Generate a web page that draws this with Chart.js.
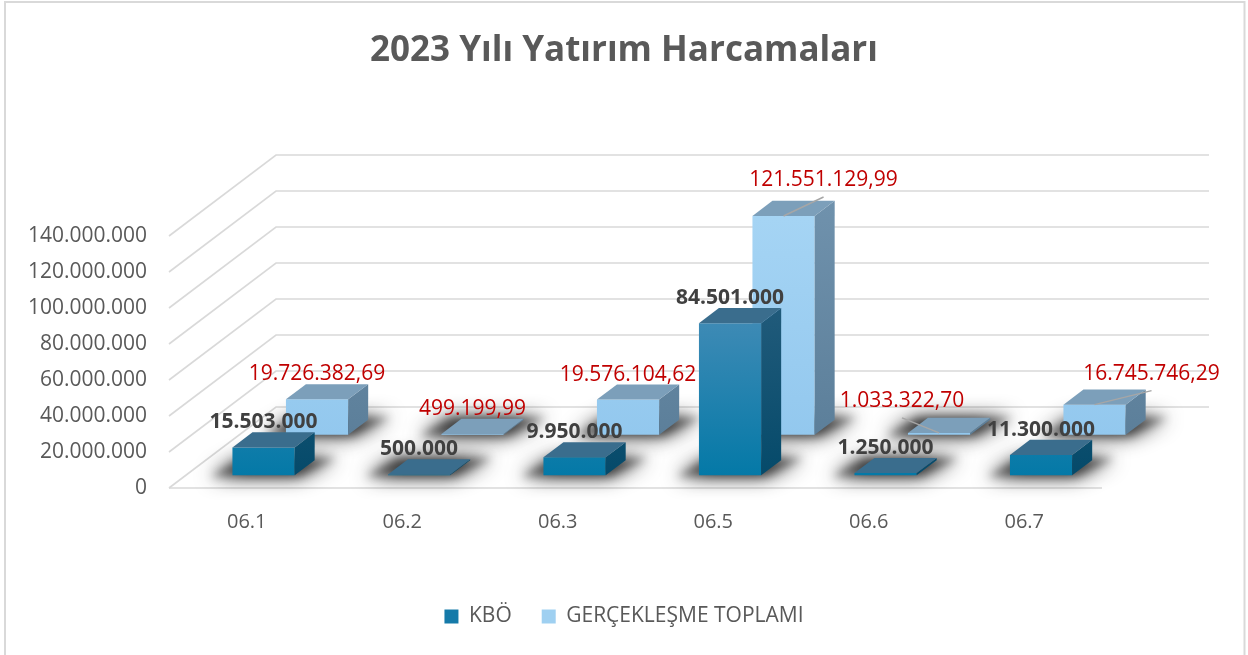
<!DOCTYPE html>
<html>
<head>
<meta charset="utf-8">
<script src="https://cdn.jsdelivr.net/npm/chart.js@4.4.1/dist/chart.umd.min.js"></script>
<style>
  html, body { margin: 0; padding: 0; background: #ffffff; }
  canvas { display: block; }
</style>
</head>
<body>
<canvas id="chart" width="1248" height="655"></canvas>
<script>
// ---------------- DATA ----------------
const categories = ['06.1', '06.2', '06.3', '06.5', '06.6', '06.7'];
const seriesNames = ['KBÖ', 'GERÇEKLEŞME TOPLAMI'];
const kboValues = [15503000, 500000, 9950000, 84501000, 1250000, 11300000];
const gerceklesmeValues = [19726382.69, 499199.99, 19576104.62, 121551129.99, 1033322.70, 16745746.29];
const yAxisMin = 0;
const yAxisMax = 140000000;
const yAxisStep = 20000000;
const chartTitle = '2023 Yılı Yatırım Harcamaları';

// ---------------- STYLE / GEOMETRY ----------------
const FONT = '"Open Sans", "Liberation Sans", sans-serif';
const GEOM = { depthX: 107, depthY: -81, rowFront: [0.157, 0.657], barDepth: 0.187 };
const COLORS = {
  kbo:  { front: [[0, '#5b9dc5'], [0.4, '#3d8ab5'], [1, '#0479a7']], top: '#3a6d8d', side: [[0, '#2f6383'], [1, '#054a6a']], legend: '#157aa9' },
  ger:  { front: [[0, '#a8d6f5'], [1, '#93c8ee']], top: '#7c9fba', side: [[0, '#7193ae'], [1, '#5c7f9a']], legend: '#9fd0f1' }
};
const LABEL_STYLE = [
  { font: 'bold 21px ' + FONT, color: '#404040', decimals: 0 },
  { font: '21px ' + FONT, color: '#c00000', decimals: 2 }
];
// label offsets (relative to bar's top-front centre); default dy = -25
const LABEL_SHIFT = [
  [null, null, null, null, null, null],
  [null, null, null, { dx: 40, dy: -36, leader: true }, { dx: -37, dy: -32, leader: true }, { dx: 57, dy: -31, leader: true }]
];
const LAYOUT = { plotBottom: 488, plotTop: 236, yAxisWidth: 169, rightGap: 146, bottomPad: 18, titleTop: 30 };

function fmt(v, dec) {
  const fixed = Number(v).toFixed(dec);
  const parts = fixed.split('.');
  const intPart = parts[0].replace(/\B(?=(\d{3})+(?!\d))/g, '.');
  return parts[1] ? intPart + ',' + parts[1] : intPart;
}

function makeGrad(ctx, ca, stops) {
  const g = ctx.createLinearGradient(0, ca.top, 0, ca.bottom);
  stops.forEach(s => g.addColorStop(s[0], s[1]));
  return g;
}

const seriesColorKeys = ['kbo', 'ger'];

const threeD = {
  id: 'threeD',
  beforeDraw(chart) {
    const ctx = chart.ctx;
    ctx.save();
    ctx.fillStyle = '#ffffff';
    ctx.fillRect(0, 0, chart.width, chart.height);
    ctx.restore();
  },
  beforeDatasetsDraw(chart) {
    const ctx = chart.ctx;
    const ca = chart.chartArea;
    const ys = chart.scales.y;
    ctx.save();
    ctx.strokeStyle = '#d9d9d9';
    ctx.lineWidth = 1.6;
    ys.ticks.forEach(tk => {
      const y = ys.getPixelForValue(tk.value);
      ctx.beginPath();
      ctx.moveTo(ca.left, y);
      ctx.lineTo(ca.left + GEOM.depthX, y + GEOM.depthY);
      ctx.lineTo(ca.right + GEOM.depthX, y + GEOM.depthY);
      ctx.stroke();
    });
    const y0 = ys.getPixelForValue(0);
    ctx.beginPath();
    ctx.moveTo(ca.left, y0);
    ctx.lineTo(ca.right, y0);
    ctx.stroke();
    ctx.restore();
  },
  beforeDatasetDraw(chart, args) {
    const ctx = chart.ctx;
    const t = GEOM.rowFront[args.index];
    ctx.save();
    ctx.translate(t * GEOM.depthX, t * GEOM.depthY);
    const ddx = GEOM.barDepth * GEOM.depthX, ddy = GEOM.barDepth * GEOM.depthY;
    args.meta.data.forEach(el => {
      const p = el.getProps(['x', 'y', 'base', 'width'], true);
      const l = p.x - p.width / 2, r = p.x + p.width / 2, b = p.base;
      const OFF = 4000;
      const passes = [{ blur: 20, a: 0.85 }, { blur: 9, a: 0.45 }];
      passes.forEach(ps => {
        ctx.save();
        ctx.shadowColor = 'rgba(0,0,0,' + ps.a + ')';
        ctx.shadowBlur = ps.blur;
        ctx.shadowOffsetX = OFF;
        ctx.shadowOffsetY = 0;
        ctx.fillStyle = '#000';
        ctx.beginPath();
        ctx.moveTo(l - 22 - OFF, b + 1);
        ctx.lineTo(r + 4 - OFF, b + 1);
        ctx.lineTo(r + ddx + 22 - OFF, b + ddy - 2);
        ctx.lineTo(l + ddx - 10 - OFF, b + ddy - 2);
        ctx.closePath();
        ctx.fill();
        ctx.restore();
      });
    });
  },
  afterDatasetDraw(chart, args) {
    const ctx = chart.ctx;
    const ca = chart.chartArea;
    const col = COLORS[seriesColorKeys[args.index]];
    const ddx = GEOM.barDepth * GEOM.depthX, ddy = GEOM.barDepth * GEOM.depthY;
    const sideGrad = makeGrad(ctx, ca, col.side);
    args.meta.data.forEach(el => {
      const p = el.getProps(['x', 'y', 'base', 'width'], true);
      const l = p.x - p.width / 2, r = p.x + p.width / 2;
      // side face
      ctx.beginPath();
      ctx.moveTo(r, p.y);
      ctx.lineTo(r, p.base);
      ctx.lineTo(r + ddx, p.base + ddy);
      ctx.lineTo(r + ddx, p.y + ddy);
      ctx.closePath();
      ctx.fillStyle = sideGrad;
      ctx.fill();
      // top face
      ctx.beginPath();
      ctx.moveTo(l, p.y);
      ctx.lineTo(r, p.y);
      ctx.lineTo(r + ddx, p.y + ddy);
      ctx.lineTo(l + ddx, p.y + ddy);
      ctx.closePath();
      ctx.fillStyle = col.top;
      ctx.fill();
    });
    ctx.restore();
  },
  afterDatasetsDraw(chart) {
    const ctx = chart.ctx;
    ctx.save();
    chart.data.datasets.forEach((ds, i) => {
      const meta = chart.getDatasetMeta(i);
      const t = GEOM.rowFront[i];
      const st = LABEL_STYLE[i];
      meta.data.forEach((el, j) => {
        const p = el.getProps(['x', 'y'], true);
        const cx = p.x + t * GEOM.depthX;
        const ty = p.y + t * GEOM.depthY;
        const sh = LABEL_SHIFT[i][j] || { dx: 0, dy: -25 };
        const lx = cx + sh.dx, ly = ty + sh.dy;
        if (sh.leader) {
          ctx.strokeStyle = '#a6a6a6';
          ctx.lineWidth = 1.5;
          ctx.beginPath();
          ctx.moveTo(lx, ly + 17);
          ctx.lineTo(cx, ty);
          ctx.stroke();
        }
        ctx.font = st.font;
        ctx.fillStyle = st.color;
        ctx.textAlign = 'center';
        ctx.textBaseline = 'middle';
        ctx.fillText(fmt(ds.data[j], st.decimals), lx, ly);
      });
    });
    ctx.restore();
  },
  afterDraw(chart) {
    const ctx = chart.ctx;
    ctx.save();
    ctx.strokeStyle = '#d9d9d9';
    ctx.lineWidth = 2;
    ctx.strokeRect(5, 2, 1239.5, 700);
    ctx.restore();
  }
};

Chart.defaults.font.family = FONT;
Chart.defaults.color = '#595959';

const titleFontSize = 35;
new Chart(document.getElementById('chart'), {
  type: 'bar',
  data: {
    labels: categories,
    datasets: [
      {
        label: seriesNames[0],
        data: kboValues,
        yAxisID: 'y',
        backgroundColor: (c) => c.chart.chartArea ? makeGrad(c.chart.ctx, c.chart.chartArea, COLORS.kbo.front) : COLORS.kbo.legend,
        borderWidth: 0,
        grouped: false,
        categoryPercentage: 1,
        barPercentage: 0.4,
        clip: false
      },
      {
        label: seriesNames[1],
        data: gerceklesmeValues,
        yAxisID: 'y',
        backgroundColor: (c) => c.chart.chartArea ? makeGrad(c.chart.ctx, c.chart.chartArea, COLORS.ger.front) : COLORS.ger.legend,
        borderWidth: 0,
        grouped: false,
        categoryPercentage: 1,
        barPercentage: 0.4,
        clip: false
      }
    ]
  },
  options: {
    responsive: false,
    devicePixelRatio: 1,
    animation: false,
    events: [],
    layout: { padding: { left: 0, right: 0, top: 0, bottom: LAYOUT.bottomPad } },
    plugins: {
      tooltip: { enabled: false },
      title: {
        display: true,
        text: chartTitle,
        color: '#595959',
        font: { size: titleFontSize, weight: 'bold', family: FONT, lineHeight: 1.2 },
        padding: { top: LAYOUT.titleTop, bottom: LAYOUT.plotTop - LAYOUT.titleTop - titleFontSize * 1.2 }
      },
      legend: {
        display: true,
        position: 'bottom',
        labels: {
          color: '#595959',
          font: { size: 21, family: FONT },
          boxWidth: 14,
          boxHeight: 14,
          padding: 30,
          generateLabels: (chart) => chart.data.datasets.map((ds, i) => ({
            text: ds.label,
            fillStyle: COLORS[seriesColorKeys[i]].legend,
            strokeStyle: 'rgba(0,0,0,0)',
            lineWidth: 0,
            hidden: false,
            datasetIndex: i,
            fontColor: '#595959'
          }))
        }
      }
    },
    scales: {
      x: {
        type: 'category',
        offset: true,
        grid: { display: false },
        border: { display: false },
        ticks: { color: '#595959', font: { size: 20 }, padding: 14, maxRotation: 0 },
        afterFit: (s) => {
          const lh = s.chart.legend ? s.chart.legend.height : 0;
          s.height = s.chart.height - LAYOUT.bottomPad - lh - LAYOUT.plotBottom;
        }
      },
      y: {
        type: 'linear',
        position: 'left',
        min: yAxisMin,
        max: yAxisMax,
        grid: { display: false },
        border: { display: false },
        ticks: {
          stepSize: yAxisStep,
          color: '#595959',
          font: { size: 21 },
          padding: 14,
          callback: (v) => fmt(v, 0)
        },
        afterFit: (s) => { s.width = LAYOUT.yAxisWidth; }
      },
      y2: {
        type: 'linear',
        position: 'right',
        display: true,
        grid: { display: false },
        border: { display: false },
        ticks: { display: false },
        afterFit: (s) => { s.width = LAYOUT.rightGap; }
      }
    }
  },
  plugins: [threeD]
});
</script>
</body>
</html>
